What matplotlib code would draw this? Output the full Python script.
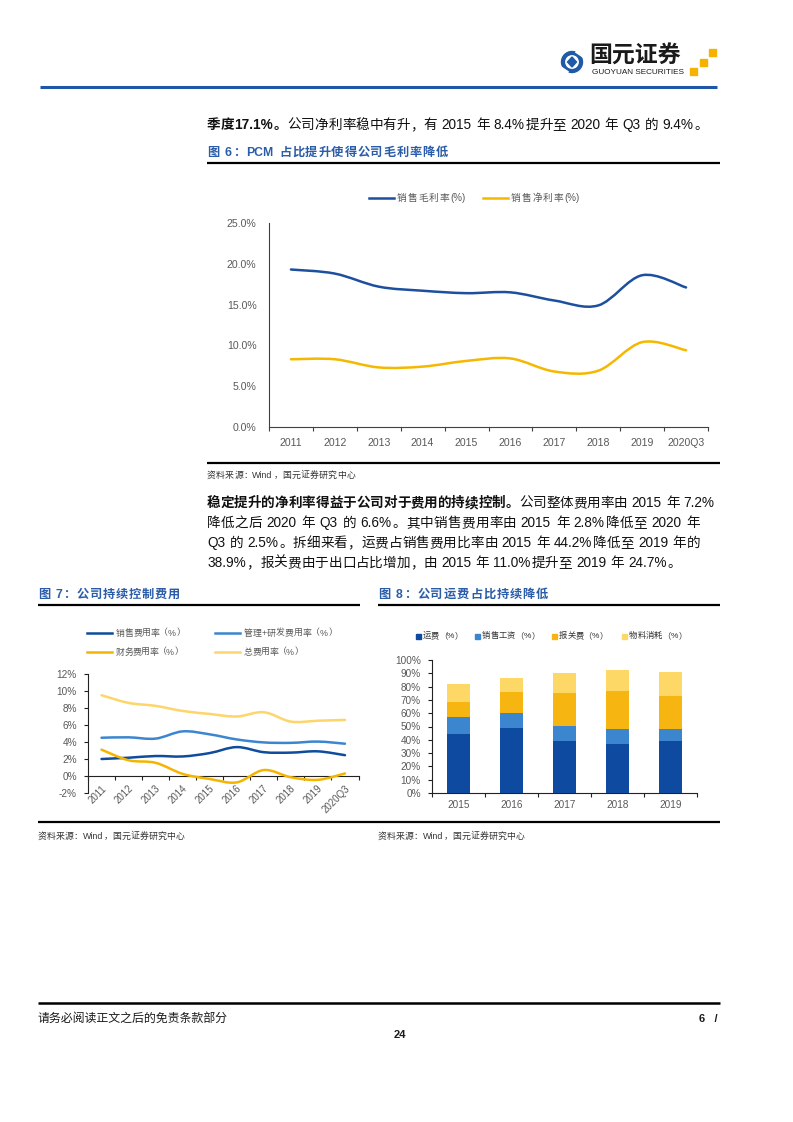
import matplotlib
matplotlib.use('Agg')
import matplotlib.pyplot as plt
import numpy as np
from matplotlib.path import Path
from matplotlib.patches import PathPatch, Rectangle, Circle, Polygon

FAM = ['Liberation Sans', 'Noto Sans CJK SC']
plt.rcParams['font.family'] = FAM

# ---------------- data ----------------
years6 = ['2011', '2012', '2013', '2014', '2015', '2016', '2017', '2018', '2019', '2020Q3']
gross_margin = [19.3, 18.8, 17.2, 16.7, 16.4, 16.5, 15.5, 14.9, 18.6, 17.1]
net_margin = [8.3, 8.3, 7.3, 7.4, 8.1, 8.4, 6.8, 6.9, 10.4, 9.4]
series6 = ['销售毛利率(%)', '销售净利率(%)']

years7 = ['2011', '2012', '2013', '2014', '2015', '2016', '2017', '2018', '2019', '2020Q3']
sales_exp = [2.0, 2.15, 2.35, 2.3, 2.7, 3.4, 2.8, 2.75, 2.9, 2.45]
mgmt_rd_exp = [4.5, 4.55, 4.4, 5.25, 4.9, 4.3, 3.95, 3.9, 4.05, 3.8]
fin_exp = [3.1, 1.85, 1.55, 0.25, -0.35, -0.75, 0.7, -0.15, -0.45, 0.3]
total_exp = [9.5, 8.6, 8.25, 7.65, 7.3, 7.0, 7.5, 6.4, 6.5, 6.6]
series7 = ['销售费用率（%）', '管理+研发费用率（%）', '财务费用率（%）', '总费用率（%）']

years8 = ['2015', '2016', '2017', '2018', '2019']
freight = [44.2, 48.7, 39.3, 37.0, 38.9]
salary = [13.1, 11.5, 11.2, 10.8, 9.4]
customs = [11.0, 16.0, 24.5, 29.2, 24.7]
material = [14.0, 10.5, 15.3, 15.2, 17.7]
series8 = ['运费（%）', '销售工资（%）', '报关费（%）', '物料消耗（%）']

# ---------------- figure ----------------
W, H = 793, 1122
fig = plt.figure(figsize=(W / 100, H / 100), dpi=100)
fig.patch.set_facecolor('white')
page = fig.add_axes([0, 0, 1, 1])
page.set_xlim(0, W)
page.set_ylim(H, 0)
page.axis('off')
R = fig.canvas.get_renderer()


def add_px(x0, y0, x1, y1):
    ax = fig.add_axes([x0 / W, 1 - y1 / H, (x1 - x0) / W, (y1 - y0) / H])
    ax.patch.set_alpha(0)
    return ax


def smooth_path(xs, ys):
    pts = np.column_stack([xs, ys]).astype(float)
    n = len(pts)
    verts = [pts[0]]
    codes = [Path.MOVETO]
    for i in range(n - 1):
        p0 = pts[i - 1] if i > 0 else pts[i]
        p1 = pts[i]
        p2 = pts[i + 1]
        p3 = pts[i + 2] if i + 2 < n else pts[i + 1]
        c1 = p1 + (p2 - p0) / 6.0
        c2 = p2 - (p3 - p1) / 6.0
        verts += [c1, c2, p2]
        codes += [Path.CURVE4] * 3
    return Path(verts, codes)


def smooth_line(ax, ys, color, lw):
    xs = np.arange(len(ys))
    ax.add_patch(PathPatch(smooth_path(xs, ys), fill=False, edgecolor=color,
                           lw=lw, capstyle='round', joinstyle='round', zorder=3))


def hline(y, x0, x1, lw=1.6, color='black'):
    page.plot([x0, x1], [y, y], color=color, lw=lw, solid_capstyle='butt')


def place_line(x0, y, segs, size, right=None, color='#111111'):
    toks = []
    for text, bold in segs:
        buf = ''
        for ch in text:
            if ch == ' ' or ord(ch) >= 0x2E80:
                if buf:
                    toks.append((buf, bold))
                    buf = ''
                toks.append((ch, bold))
            else:
                buf += ch
        if buf:
            toks.append((buf, bold))
    em = size * 100 / 72
    objs, widths = [], []
    for s, b in toks:
        if s == ' ':
            objs.append(None)
            widths.append(em * 0.28)
            continue
        o = page.text(0, y, s, fontsize=size, fontweight='bold' if b else 'normal',
                      color=color, va='center', ha='left')
        objs.append(o)
        if ord(s[0]) >= 0x2E80:
            widths.append(em)
        else:
            widths.append(o.get_window_extent(R).width + em * 0.06)
    total = sum(widths)
    gap = 0 if right is None else (right - x0 - total) / max(len(toks) - 1, 1)
    x = x0
    for o, w in zip(objs, widths):
        if o is not None:
            o.set_x(x)
        x += w + gap


BLUE_CAP = '#2a5ca8'
GRAY = '#595959'

# ---------------- header ----------------
hline(87, 40, 717, lw=2.2, color='#1f56a6')
page.add_patch(Circle((572, 62), 10.5, color='#1f5aa8'))
page.add_patch(Circle((572, 62), 6.2, color='white'))
page.add_patch(Polygon([[572, 57], [576.5, 62], [572, 67], [567.5, 62]], color='#1f5aa8'))
page.plot([577, 583], [52, 56], color='white', lw=2.2)
page.plot([561, 567], [68, 72], color='white', lw=2.2)
page.text(589, 56, '国元证券', fontsize=16.5, fontweight='bold', color='#1a1a1a',
          va='center', ha='left', family=['Noto Sans CJK SC'])
page.text(592, 72.5, 'GUOYUAN SECURITIES', fontsize=5.9, color='#1a1a1a',
          va='center', ha='left')
for (cx, cy) in [(712, 52), (703, 62), (693, 71)]:
    page.add_patch(Rectangle((cx - 3.5, cy - 3.5), 7, 7, color='#f5b300'))

# ---------------- paragraph 1 ----------------
BODY = 9.8
place_line(207, 125, [('季度17.1%。', True),
                      ('公司净利率稳中有升，有 2015 年 8.4%提升至 2020 年 Q3 的 9.4%。', False)],
           BODY, right=708)

# ---------------- figure 6 ----------------
place_line(207, 153, [('图 6：PCM 占比提升使得公司毛利率降低', True)], 8.8, right=448, color=BLUE_CAP)
hline(163, 207, 720)

ax6 = add_px(269, 223, 708, 427)
ax6.set_xlim(-0.5, 9.5)
ax6.set_ylim(0, 25)
c6 = ['#1c4f9e', '#f5b800']
smooth_line(ax6, gross_margin, c6[0], 1.8)
smooth_line(ax6, net_margin, c6[1], 1.8)
ax6.set_xticks(range(len(years6)))
ax6.set_xticklabels(years6)
ax6.set_xticks(np.arange(-0.5, len(years6), 1), minor=True)
ax6.tick_params(axis='x', which='major', length=0, pad=8, labelsize=7.6, labelcolor=GRAY)
ax6.tick_params(axis='x', which='minor', length=3, direction='out', color='#404040', width=0.8)
ax6.set_yticks(range(0, 26, 5))
ax6.set_yticklabels([f'{v:.1f}%' for v in range(0, 26, 5)])
ax6.tick_params(axis='y', length=0, pad=9, labelsize=7.6, labelcolor=GRAY)
for s in ['top', 'right']:
    ax6.spines[s].set_visible(False)
for s in ['left', 'bottom']:
    ax6.spines[s].set_color('#404040')
    ax6.spines[s].set_linewidth(0.8)

# legend 6
for (lx, rx, label, col) in [(369, 466, series6[0], c6[0]), (483, 580, series6[1], c6[1])]:
    page.plot([lx, lx + 25], [198, 198], color=col, lw=1.8)
    place_line(lx + 28, 198, [(label, False)], 7, right=rx, color=GRAY)

hline(463, 207, 720)
place_line(207, 475, [('资料来源：Wind，国元证券研究中心', False)], 6.4, right=355, color='#333333')

# ---------------- paragraph 2 ----------------
place_line(207, 503, [('稳定提升的净利率得益于公司对于费用的持续控制。', True),
                      ('公司整体费用率由 2015 年 7.2%', False)], BODY, right=715)
place_line(207, 523, [('降低之后 2020 年 Q3 的 6.6%。其中销售费用率由 2015 年 2.8%降低至 2020 年', False)],
           BODY, right=700)
place_line(207, 543, [('Q3 的 2.5%。拆细来看，运费占销售费用比率由 2015 年 44.2%降低至 2019 年的', False)],
           BODY, right=700)
place_line(207, 563, [('38.9%，报关费由于出口占比增加，由 2015 年 11.0%提升至 2019 年 24.7%。', False)],
           BODY)

# ---------------- figure 7 ----------------
place_line(38, 595, [('图 7：公司持续控制费用', True)], 8.8, right=180, color=BLUE_CAP)
hline(605, 38, 360)

c7 = ['#0f4c9c', '#3c86cf', '#f5b400', '#fdd56a']
ax7 = add_px(88, 674, 358.5, 793)
ax7.set_xlim(-0.5, 9.5)
ax7.set_ylim(-2, 12)
for ys, col in zip([total_exp, mgmt_rd_exp, sales_exp, fin_exp], [c7[3], c7[1], c7[0], c7[2]]):
    smooth_line(ax7, ys, col, 1.8)
ax7.spines['bottom'].set_position(('data', 0))
for s in ['top', 'right']:
    ax7.spines[s].set_visible(False)
for s in ['left', 'bottom']:
    ax7.spines[s].set_color('#222222')
    ax7.spines[s].set_linewidth(0.8)
ax7.set_xticks(np.arange(-0.5, len(years7), 1))
ax7.set_xticklabels([])
ax7.tick_params(axis='x', length=3, direction='out', color='#222222', width=0.8)
ax7.set_yticks(range(-2, 13, 2))
ax7.set_yticklabels([f'{v}%' for v in range(-2, 13, 2)])
ax7.tick_params(axis='y', length=3, direction='out', pad=5, labelsize=7.2, labelcolor=GRAY,
                color='#222222', width=0.8)
for i, lab in enumerate(years7):
    ax7.text(i + 0.12, -1.3, lab, rotation=45, ha='right', va='center',
             rotation_mode='anchor', fontsize=7, color=GRAY, clip_on=False)

leg7 = [(87, 633, 185, series7[0], c7[0]), (215, 633, 337, series7[1], c7[1]),
        (87, 652, 183, series7[2], c7[2]), (215, 652, 303, series7[3], c7[3])]
for lx, ly, rx, label, col in leg7:
    page.plot([lx, lx + 25], [ly, ly], color=col, lw=1.8)
    place_line(lx + 29, ly, [(label, False)], 6.4, right=rx, color=GRAY)

# ---------------- figure 8 ----------------
place_line(378, 595, [('图 8：公司运费占比持续降低', True)], 8.8, right=548, color=BLUE_CAP)
hline(605, 378, 720)

c8 = ['#0d4aa0', '#3b86cf', '#f7b512', '#fed866']
ax8 = add_px(432, 660, 697, 793)
ax8.set_xlim(-0.5, 4.5)
ax8.set_ylim(0, 100)
x8 = np.arange(len(years8))
bottom = np.zeros(len(years8))
for vals, col in zip([freight, salary, customs, material], c8):
    ax8.bar(x8, vals, width=0.42, bottom=bottom, color=col, zorder=3)
    bottom += np.array(vals)
ax8.set_xticks(x8)
ax8.set_xticklabels(years8)
ax8.set_xticks(np.arange(-0.5, len(years8), 1), minor=True)
ax8.tick_params(axis='x', which='major', length=0, pad=5, labelsize=7.2, labelcolor=GRAY)
ax8.tick_params(axis='x', which='minor', length=3, direction='out', color='#222222', width=0.8)
ax8.set_yticks(range(0, 101, 10))
ax8.set_yticklabels([f'{v}%' for v in range(0, 101, 10)])
ax8.tick_params(axis='y', length=3, direction='out', pad=5, labelsize=7.2, labelcolor=GRAY,
                color='#222222', width=0.8)
for s in ['top', 'right']:
    ax8.spines[s].set_visible(False)
for s in ['left', 'bottom']:
    ax8.spines[s].set_color('#222222')
    ax8.spines[s].set_linewidth(0.8)

for lx, rx, label, col in zip([418, 477, 554, 624], [463, 540, 608, 687], series8, c8):
    page.add_patch(Rectangle((lx - 2.5, 636 - 2.5), 5, 5, color=col))
    place_line(lx + 5, 636, [(label, False)], 6.0, right=rx, color='#333333')

# ---------------- sources ----------------
hline(822, 38, 720)
place_line(38, 836, [('资料来源：Wind，国元证券研究中心', False)], 6.4, right=184, color='#333333')
place_line(378, 836, [('资料来源：Wind，国元证券研究中心', False)], 6.4, right=524, color='#333333')

# ---------------- footer ----------------
hline(1003, 38, 720, lw=1.8)
page.text(38, 1019, '请务必阅读正文之后的免责条款部分', fontsize=8.6, color='#1a1a1a',
          va='center', ha='left')
page.text(718, 1019, '6   /', fontsize=8, fontweight='bold', color='#1a1a1a',
          va='center', ha='right')
page.text(400, 1035, '24', fontsize=8, fontweight='bold', color='#1a1a1a',
          va='center', ha='center')

fig.savefig('out.png', dpi=100, facecolor='white')
